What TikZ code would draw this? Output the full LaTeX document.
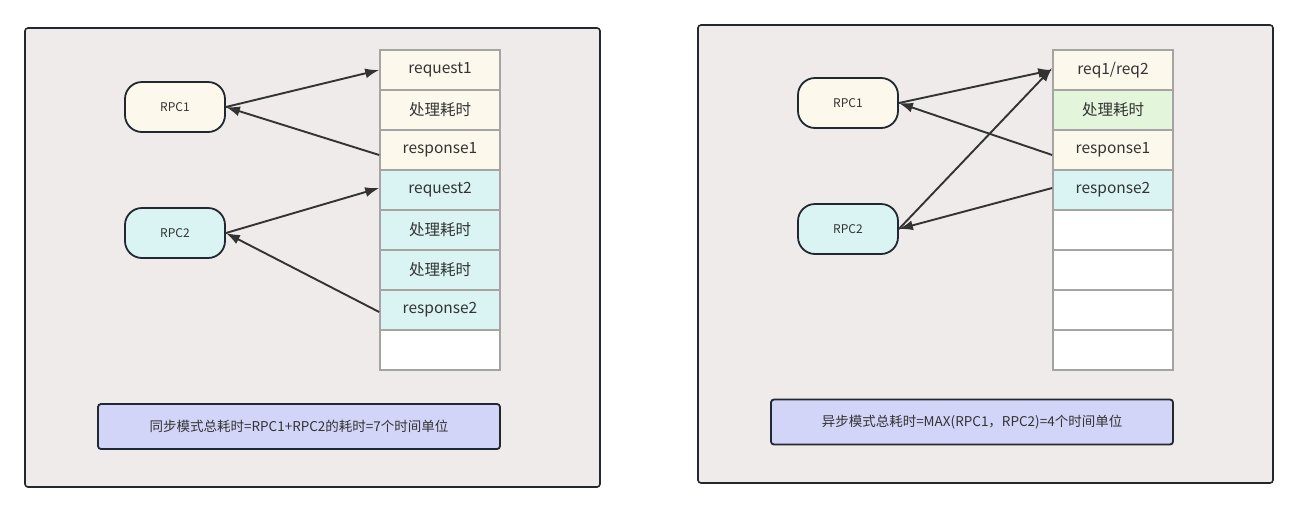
\documentclass[tikz,border=0pt]{standalone}
\usepackage{fontspec}
\setmainfont{Noto Sans CJK SC}
\usetikzlibrary{shapes,arrows.meta,positioning}

\definecolor{panelbg}{HTML}{EFEBEA}
\definecolor{cream}{HTML}{FCF9EC}
\definecolor{aqua}{HTML}{DAF4F3}
\definecolor{mint}{HTML}{E3F5DB}
\definecolor{lilac}{HTML}{D2D5F7}
\definecolor{cellline}{HTML}{A6A4A3}
\definecolor{ink}{HTML}{333333}
\definecolor{edge}{HTML}{222831}

\tikzset{
  panel/.style={draw=edge, line width=1.6pt, fill=panelbg, rounded corners=3pt},
  rpc/.style={draw=edge, line width=1.8pt, rounded corners=17pt, minimum width=100pt,
    minimum height=50pt, inner sep=0pt, text=ink, font=\fontsize{12}{14}\selectfont},
  cell/.style={draw=cellline, line width=1.6pt, minimum width=120pt, minimum height=40pt,
    inner sep=0pt, text=ink, font=\fontsize{15.5}{18}\selectfont},
  note/.style={draw=edge, line width=1.8pt, fill=lilac, rounded corners=3pt, minimum width=402pt,
    minimum height=45pt, inner sep=0pt, text=ink, font=\fontsize{13.5}{16}\selectfont},
  link/.style={-{Latex[length=14pt,width=10pt]}, line width=1.9pt, draw=black!80}
}

\begin{document}
\begin{tikzpicture}[x=1pt,y=-1pt]
\useasboundingbox (0,0) rectangle (1298,512);

% two panels
\draw[panel] (25,28) rectangle (600,487);
\draw[panel] (698,25) rectangle (1273,483);

% synchronous mode
\node[rpc, fill=cream] (syncA) at (175,107) {RPC1};
\node[rpc, fill=aqua] (syncB) at (175,233) {RPC2};

\foreach \i/\txt/\col in {1/request1/cream, 2/处理耗时/cream, 3/response1/cream,
    4/request2/aqua, 5/处理耗时/aqua, 6/处理耗时/aqua, 7/response2/aqua, 8/{}/white}
  \node[cell, fill=\col] (S\i) at (440,30+40*\i) {\txt};

\draw[link] (syncA.east) -- (S1.west);
\draw[link] ([yshift=-5pt]S3.west) -- (syncA.east);
\draw[link] (syncB.east) -- ([yshift=2pt]S4.west);
\draw[link] ([yshift=-2pt]S7.west) -- (syncB.east);

\node[note] (syncNote) at (299,426.5) {同步模式总耗时=RPC1+RPC2的耗时=7个时间单位};

% asynchronous mode
\node[rpc, fill=cream] (asyncA) at (848,103) {RPC1};
\node[rpc, fill=aqua] (asyncB) at (848,229) {RPC2};

\foreach \i/\txt/\col in {1/req1\slash req2/cream, 2/处理耗时/mint, 3/response1/cream,
    4/response2/aqua, 5/{}/white, 6/{}/white, 7/{}/white, 8/{}/white}
  \node[cell, fill=\col] (A\i) at (1113,30+40*\i) {\txt};

\draw[link] (asyncA.east) -- (A1.west);
\draw[link] (asyncB.east) -- ([yshift=2pt]A1.west);
\draw[link] ([yshift=-5pt]A3.west) -- (asyncA.east);
\draw[link] ([yshift=2pt]A4.west) -- (asyncB.east);

\node[note] (asyncNote) at (972,422) {异步模式总耗时=MAX(RPC1，RPC2)=4个时间单位};

\end{tikzpicture}
\end{document}
